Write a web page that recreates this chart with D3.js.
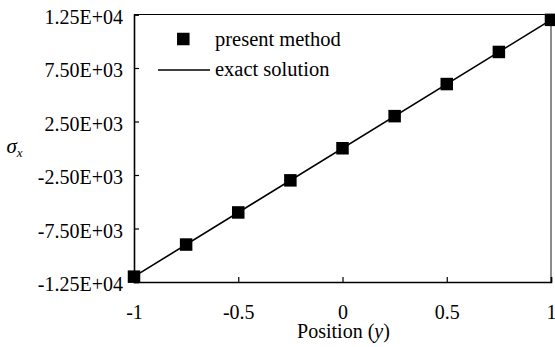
<!DOCTYPE html>
<html><head><meta charset="utf-8">
<script src="https://cdn.jsdelivr.net/npm/d3@7"></script>
<style>body{margin:0;background:#fff}svg{display:block}</style>
</head><body>
<svg id="c" width="555" height="347"></svg>
<script>
const positions = [-1, -0.75, -0.5, -0.25, 0, 0.25, 0.5, 0.75, 1];
const presentMethod = [-12000, -9000, -6000, -3000, 0, 3000, 6000, 9000, 12000];
const exactX = [-1, 1];
const exactY = [-12000, 12000];
const xTicks = [-1, -0.5, 0, 0.5, 1];
const xTickLabels = ["-1", "-0.5", "0", "0.5", "1"];
const yTicks = [-12500, -7500, -2500, 2500, 7500, 12500];
const yTickLabels = ["-1.25E+04", "-7.50E+03", "-2.50E+03", "2.50E+03", "7.50E+03", "1.25E+04"];
const legendLabels = ["present method", "exact solution"];

const L = 134, R = 551, T = 14.5, B = 282;
const font = "'Liberation Serif','Times New Roman',serif";
const fs = 20;
const svg = d3.select("#c");
const x = d3.scaleLinear().domain([-1, 1]).range([L, R]);
const y = d3.scaleLinear().domain([-12500, 12500]).range([B, T]);

// frame
svg.append("line").attr("x1", L).attr("x2", R).attr("y1", T).attr("y2", T).attr("stroke", "#000").attr("stroke-width", 1);
svg.append("line").attr("x1", R).attr("x2", R).attr("y1", T).attr("y2", B).attr("stroke", "#666").attr("stroke-width", 1.5);

// axes
const xAxis = d3.axisBottom(x).tickValues(xTicks).tickSize(-5).tickPadding(0).tickFormat((d, i) => xTickLabels[i]);
const gx = svg.append("g").attr("transform", `translate(0,${B})`).call(xAxis);
gx.select(".domain").attr("stroke", "#000").attr("stroke-width", 1.6);
gx.selectAll(".tick line").attr("stroke", "#000").attr("stroke-width", 1.2);
gx.selectAll(".tick text").attr("font-family", font).attr("font-size", fs).attr("fill", "#000")
  .attr("y", 36.5).attr("dy", null);

const yAxis = d3.axisLeft(y).tickValues(yTicks).tickSize(-5).tickPadding(0).tickFormat((d, i) => yTickLabels[i]);
const gy = svg.append("g").attr("transform", `translate(${L},0)`).call(yAxis);
gy.select(".domain").attr("stroke", "#000").attr("stroke-width", 1.6);
gy.selectAll(".tick line").attr("stroke", "#000").attr("stroke-width", 1.2);
gy.selectAll(".tick text").attr("font-family", font).attr("font-size", fs).attr("fill", "#000")
  .attr("x", -11).attr("dy", null).attr("y", 8.5).attr("text-anchor", "end");

// exact line
const line = d3.line().x(d => x(d[0])).y(d => y(d[1]));
svg.append("path").datum(exactX.map((v, i) => [v, exactY[i]])).attr("d", line)
  .attr("fill", "none").attr("stroke", "#000").attr("stroke-width", 1.6);

// markers
const ms = 12.5;
svg.append("g").selectAll("rect").data(positions.map((v, i) => [v, presentMethod[i]])).join("rect")
  .attr("x", d => x(d[0]) - ms / 2).attr("y", d => y(d[1]) - ms / 2)
  .attr("width", ms).attr("height", ms).attr("fill", "#000");

// legend
svg.append("rect").attr("x", 183.3 - ms / 2).attr("y", 39 - ms / 2).attr("width", ms).attr("height", ms).attr("fill", "#000");
svg.append("line").attr("x1", 158).attr("x2", 210).attr("y1", 70).attr("y2", 70).attr("stroke", "#000").attr("stroke-width", 1.6);
svg.append("text").attr("x", 215).attr("y", 45.5).attr("font-family", font).attr("font-size", 20.5).text(legendLabels[0]);
svg.append("text").attr("x", 215).attr("y", 75.5).attr("font-family", font).attr("font-size", 20.5).text(legendLabels[1]);

// axis titles
const xt = svg.append("text").attr("x", (L + R) / 2 + 1).attr("y", 337.5).attr("text-anchor", "middle")
  .attr("font-family", font).attr("font-size", 20);
xt.append("tspan").text("Position (");
xt.append("tspan").attr("font-style", "italic").text("y");
xt.append("tspan").text(")");

const yt = svg.append("text").attr("x", 6.5).attr("y", 153).attr("font-family", font).attr("font-size", 21);
yt.append("tspan").attr("font-style", "italic").text("σ");
yt.append("tspan").attr("font-style", "italic").attr("font-size", 13).attr("dy", 4).text("x");
</script>
</body></html>
